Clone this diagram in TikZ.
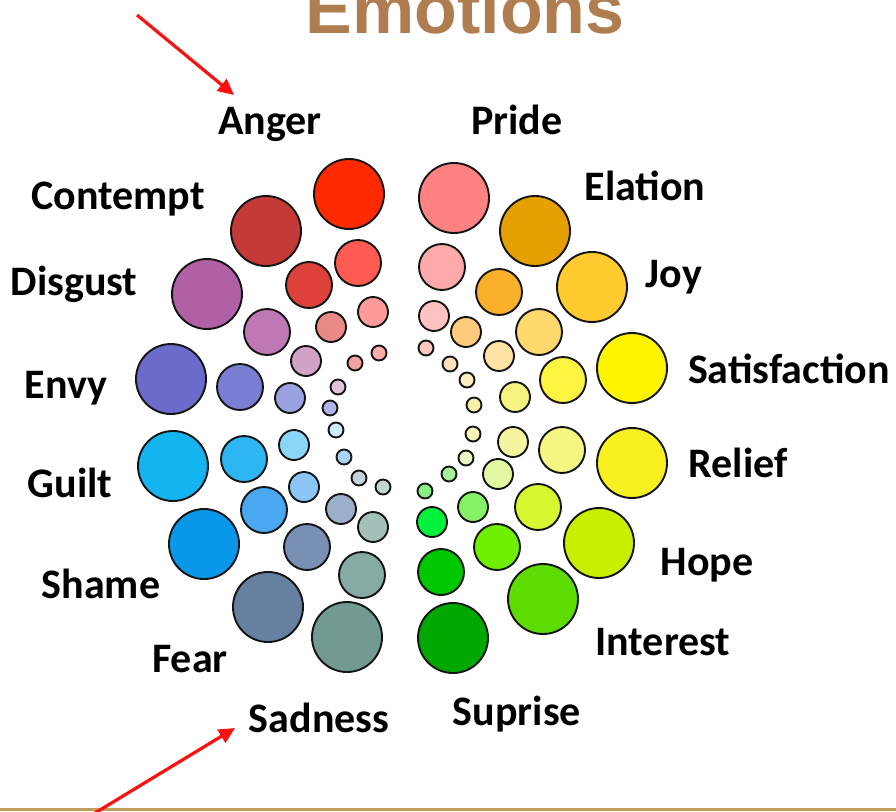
\documentclass[tikz,border=0pt]{standalone}
\usepackage{fontspec}
\usetikzlibrary{arrows.meta}
\newfontfamily\titlefont{Liberation Sans}
\newfontfamily\emofont{Carlito}
\definecolor{titlebrown}{HTML}{B07D50}
\definecolor{rulegold}{HTML}{C0A05A}
\definecolor{arrowred}{HTML}{FF1010}
\definecolor{an1}{HTML}{FF2A00}\definecolor{an2}{HTML}{FF5B52}\definecolor{an3}{HTML}{FF9C99}\definecolor{an4}{HTML}{FFACA8}
\definecolor{co1}{HTML}{C33A36}\definecolor{co2}{HTML}{DE4139}\definecolor{co3}{HTML}{E98A86}\definecolor{co4}{HTML}{F3A3A0}
\definecolor{di1}{HTML}{B061A6}\definecolor{di2}{HTML}{BF78B3}\definecolor{di3}{HTML}{D0A2C6}\definecolor{di4}{HTML}{E2C2DA}
\definecolor{en1}{HTML}{6B6BCB}\definecolor{en2}{HTML}{7A7ED2}\definecolor{en3}{HTML}{9AA2E0}\definecolor{en4}{HTML}{AEB2EA}
\definecolor{gu1}{HTML}{14B4F0}\definecolor{gu2}{HTML}{2CB6F2}\definecolor{gu3}{HTML}{8AD6F8}\definecolor{gu4}{HTML}{CDEEFA}
\definecolor{sh1}{HTML}{0A98EA}\definecolor{sh2}{HTML}{4AA8F0}\definecolor{sh3}{HTML}{8CC6F6}\definecolor{sh4}{HTML}{A8D4F4}
\definecolor{fe1}{HTML}{66809F}\definecolor{fe2}{HTML}{7890B3}\definecolor{fe3}{HTML}{9BB0C8}\definecolor{fe4}{HTML}{C5D2DC}
\definecolor{sa1}{HTML}{739A90}\definecolor{sa2}{HTML}{86ABA2}\definecolor{sa3}{HTML}{A2C0B8}\definecolor{sa4}{HTML}{C2D6CE}
\definecolor{pr1}{HTML}{FF8282}\definecolor{pr2}{HTML}{FFAAAA}\definecolor{pr3}{HTML}{FFC2C2}\definecolor{pr4}{HTML}{FFC8C0}
\definecolor{el1}{HTML}{E6A000}\definecolor{el2}{HTML}{FBB02A}\definecolor{el3}{HTML}{FCCB7E}\definecolor{el4}{HTML}{FFE2BC}
\definecolor{jo1}{HTML}{FFCB2E}\definecolor{jo2}{HTML}{FFD86E}\definecolor{jo3}{HTML}{FFE3A2}\definecolor{jo4}{HTML}{FFEDC0}
\definecolor{st1}{HTML}{FFF500}\definecolor{st2}{HTML}{FFF540}\definecolor{st3}{HTML}{F5F580}\definecolor{st4}{HTML}{F8F0A8}
\definecolor{re1}{HTML}{F8F020}\definecolor{re2}{HTML}{F6F682}\definecolor{re3}{HTML}{F6F6A0}\definecolor{re4}{HTML}{F8F4BA}
\definecolor{ho1}{HTML}{C8EE00}\definecolor{ho2}{HTML}{D6F830}\definecolor{ho3}{HTML}{E4F8A4}\definecolor{ho4}{HTML}{ECF8C4}
\definecolor{in1}{HTML}{5CDC00}\definecolor{in2}{HTML}{6EF000}\definecolor{in3}{HTML}{84F264}\definecolor{in4}{HTML}{A6F098}
\definecolor{su1}{HTML}{00A800}\definecolor{su2}{HTML}{00C800}\definecolor{su3}{HTML}{00F23C}\definecolor{su4}{HTML}{86F086}
\begin{document}
\begin{tikzpicture}[x=1pt,y=-1pt,
  dot/.style={draw=black!92,shape=circle,inner sep=0pt,line width=1.9pt},
  dotA/.style={dot,minimum size=70pt},
  dotB/.style={dot,minimum size=46pt},
  dotC/.style={dot,minimum size=30pt},
  dotD/.style={dot,minimum size=15pt},
  emo/.style={anchor=base,inner sep=0pt,font=\emofont\bfseries\fontsize{42}{42}\selectfont},
  pointer/.style={draw=arrowred,line width=3.2pt,-{Triangle[length=16pt,width=15pt]}}]
\useasboundingbox (0,0) rectangle (896,811);
% title, cut at the top edge
\begin{scope}
\clip (0,0) rectangle (896,811);
\node [anchor=base,inner sep=0pt,text=titlebrown,font=\titlefont\bfseries\fontsize{70}{70}\selectfont,name=title] at (465,33){Emotions};
\end{scope}
\fill [rulegold] (0,808) rectangle (896,811);
% left half
\node [dotA,fill=an1,name=an1] at (349,194){};
\node [dotB,fill=an2,name=an2] at (358,263){};
\node [dotC,fill=an3,name=an3] at (373,312){};
\node [dotD,fill=an4,name=an4] at (379,353){};
\node [dotA,fill=co1,name=co1] at (266,231){};
\node [dotB,fill=co2,name=co2] at (309,285){};
\node [dotC,fill=co3,name=co3] at (331,327){};
\node [dotD,fill=co4,name=co4] at (355,363){};
\node [dotA,fill=di1,name=di1] at (207,294){};
\node [dotB,fill=di2,name=di2] at (267,332){};
\node [dotC,fill=di3,name=di3] at (306,361){};
\node [dotD,fill=di4,name=di4] at (338,387){};
\node [dotA,fill=en1,name=en1] at (171,379){};
\node [dotB,fill=en2,name=en2] at (240,387){};
\node [dotC,fill=en3,name=en3] at (290,398){};
\node [dotD,fill=en4,name=en4] at (330,408){};
\node [dotA,fill=gu1,name=gu1] at (173,466){};
\node [dotB,fill=gu2,name=gu2] at (244,459){};
\node [dotC,fill=gu3,name=gu3] at (294,445){};
\node [dotD,fill=gu4,name=gu4] at (336,430){};
\node [dotA,fill=sh1,name=sh1] at (204,544){};
\node [dotB,fill=sh2,name=sh2] at (264,510){};
\node [dotC,fill=sh3,name=sh3] at (304,487){};
\node [dotD,fill=sh4,name=sh4] at (344,457){};
\node [dotA,fill=fe1,name=fe1] at (268,607){};
\node [dotB,fill=fe2,name=fe2] at (307,547){};
\node [dotC,fill=fe3,name=fe3] at (341,509){};
\node [dotD,fill=fe4,name=fe4] at (359,478){};
\node [dotA,fill=sa1,name=sa1] at (347,637){};
\node [dotB,fill=sa2,name=sa2] at (362,575){};
\node [dotC,fill=sa3,name=sa3] at (373,527){};
\node [dotD,fill=sa4,name=sa4] at (383,487){};
% right half
\node [dotA,fill=pr1,name=pr1] at (454,198){};
\node [dotB,fill=pr2,name=pr2] at (442,267){};
\node [dotC,fill=pr3,name=pr3] at (434,316){};
\node [dotD,fill=pr4,name=pr4] at (426,348){};
\node [dotA,fill=el1,name=el1] at (535,231){};
\node [dotB,fill=el2,name=el2] at (499,292){};
\node [dotC,fill=el3,name=el3] at (466,332){};
\node [dotD,fill=el4,name=el4] at (450,364){};
\node [dotA,fill=jo1,name=jo1] at (592,287){};
\node [dotB,fill=jo2,name=jo2] at (539,332){};
\node [dotC,fill=jo3,name=jo3] at (499,356){};
\node [dotD,fill=jo4,name=jo4] at (467,380){};
\node [dotA,fill=st1,name=st1] at (632,368){};
\node [dotB,fill=st2,name=st2] at (563,380){};
\node [dotC,fill=st3,name=st3] at (515,397){};
\node [dotD,fill=st4,name=st4] at (474,405){};
\node [dotA,fill=re1,name=re1] at (632,463){};
\node [dotB,fill=re2,name=re2] at (562,450){};
\node [dotC,fill=re3,name=re3] at (513,442){};
\node [dotD,fill=re4,name=re4] at (473,434){};
\node [dotA,fill=ho1,name=ho1] at (599,543){};
\node [dotB,fill=ho2,name=ho2] at (538,507){};
\node [dotC,fill=ho3,name=ho3] at (498,474){};
\node [dotD,fill=ho4,name=ho4] at (466,458){};
\node [dotA,fill=in1,name=in1] at (543,599){};
\node [dotB,fill=in2,name=in2] at (497,547){};
\node [dotC,fill=in3,name=in3] at (473,507){};
\node [dotD,fill=in4,name=in4] at (449,474){};
\node [dotA,fill=su1,name=su1] at (453,638){};
\node [dotB,fill=su2,name=su2] at (441,572){};
\node [dotC,fill=su3,name=su3] at (432,522){};
\node [dotD,fill=su4,name=su4] at (425,491){};
% labels
\node [emo,name=anger] at (270,134){Anger};
\node [emo,name=pride] at (517,134){Pride};
\node [emo,name=contempt] at (118,209){Contempt};
\node [emo,name=elation] at (645,200){Elation};
\node [emo,name=disgust] at (74,295){Disgust};
\node [emo,name=joy] at (674,287){Joy};
\node [emo,name=envy] at (66,398){Envy};
\node [emo,name=satisfaction] at (789,383){Satisfaction};
\node [emo,name=guilt] at (70,497){Guilt};
\node [emo,name=relief] at (738,477){Relief};
\node [emo,name=shame] at (101,598){Shame};
\node [emo,name=hope] at (707,575){Hope};
\node [emo,name=fear] at (190,672){Fear};
\node [emo,name=interest] at (663,655){Interest};
\node [emo,name=sadness] at (319,732){Sadness};
\node [emo,name=suprise] at (517,725){Suprise};
% red pointers
\coordinate (topfrom) at (137,15);
\coordinate (topto) at (234,95);
\coordinate (botfrom) at (95,813);
\coordinate (botto) at (235,728);
\draw [pointer] (topfrom)--(topto);
\draw [pointer] (botfrom)--(botto);
\end{tikzpicture}
\end{document}
